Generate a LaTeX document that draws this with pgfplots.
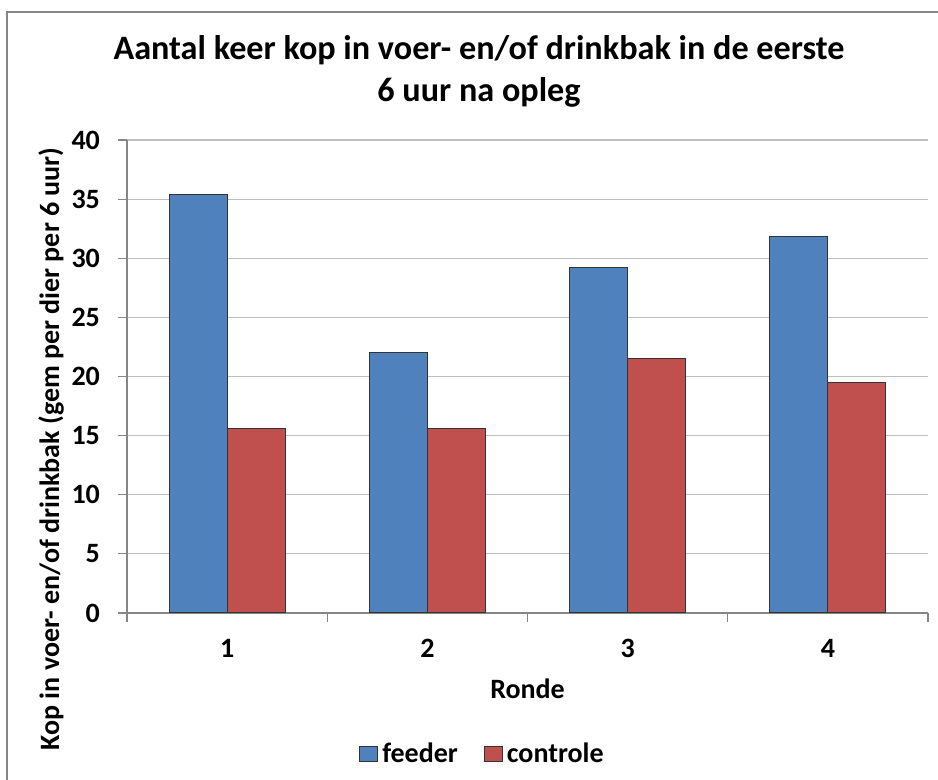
\documentclass[border=0pt]{standalone}
\usepackage{pgfplots}
\pgfplotsset{compat=1.18}
\usepackage{fontspec}
\setmainfont{Carlito}
\definecolor{feederblue}{HTML}{4F81BD}
\definecolor{controlered}{HTML}{C0504D}
\definecolor{axisgray}{HTML}{868686}
\definecolor{gridgray}{HTML}{BEBEBE}
\newcommand{\tickfont}{\bfseries\fontsize{14}{16}\selectfont}
\newcommand{\titlefont}{\bfseries\fontsize{17.1}{20}\selectfont}
\begin{document}
% 1 px of the reference = 0.5pt; picture is 938 x 780 px
\begin{tikzpicture}
  \useasboundingbox (0,0) rectangle (469pt,390pt);
  \clip (0,0) rectangle (469pt,390pt);
  % chart frame (cut off at right and bottom)
  \draw[axisgray, line width=0.7pt] (3.5pt,-20pt) -- (3.5pt,384pt) -- (490pt,384pt);

  \begin{axis}[
      at={(63.5pt,83.5pt)}, anchor=south west,
      scale only axis,
      width=400.5pt, height=236.5pt,
      xmin=0.5, xmax=4.5,
      ymin=0, ymax=40,
      ybar, bar width=29pt,
      axis lines*=left,
      axis line style={axisgray, line width=0.6pt},
      ymajorgrids,
      grid style={gridgray, line width=0.6pt},
      xtick={1,2,3,4},
      major x tick style={draw=none},
      minor xtick={0.5,1.5,2.5,3.5,4.5},
      minor x tick style={axisgray, line width=0.6pt},
      ytick={0,5,...,40},
      major y tick style={axisgray, line width=0.6pt},
      tick align=outside,
      major tick length=4.5pt,
      minor tick length=4.5pt,
      /pgf/number format/assume math mode=true,
      tick label style={font=\tickfont},
      yticklabel style={xshift=-5.5pt},
      xticklabel style={yshift=-5pt},
      legend style={
          at={(axis description cs:0.445,-0.299)}, anchor=center,
          draw=none, fill=none,
          legend columns=2,
          font=\tickfont,
          /tikz/every even column/.append style={column sep=11pt},
      },
      legend image code/.code={\draw[#1,bar shift=0pt] (0pt,-3.75pt) rectangle (9pt,3.75pt);},
    ]
    \addplot[fill=feederblue, draw=black!80, line width=0.5pt, bar shift=-14.5pt]
      coordinates {(1,35.35) (2,21.99) (3,29.25) (4,31.87)};
    \addlegendentry{feeder}
    \addplot[fill=controlered, draw=black!80, line width=0.5pt, bar shift=14.5pt]
      coordinates {(1,15.56) (2,15.64) (3,21.55) (4,19.52)};
    \addlegendentry{controle}
  \end{axis}

  % title
  \node[anchor=base, font=\titlefont] at (239.5pt,360pt)
    {Aantal keer kop in voer- en/of drinkbak in de eerste};
  \node[anchor=base, font=\titlefont] at (239.5pt,339pt) {6 uur na opleg};
  % axis titles
  \node[anchor=base, font=\tickfont] at (263.75pt,40.5pt) {Ronde};
  \node[anchor=base, rotate=90, font=\tickfont] at (29.5pt,165.5pt)
    {Kop in voer- en/of drinkbak (gem per dier per 6 uur)};
\end{tikzpicture}
\end{document}
